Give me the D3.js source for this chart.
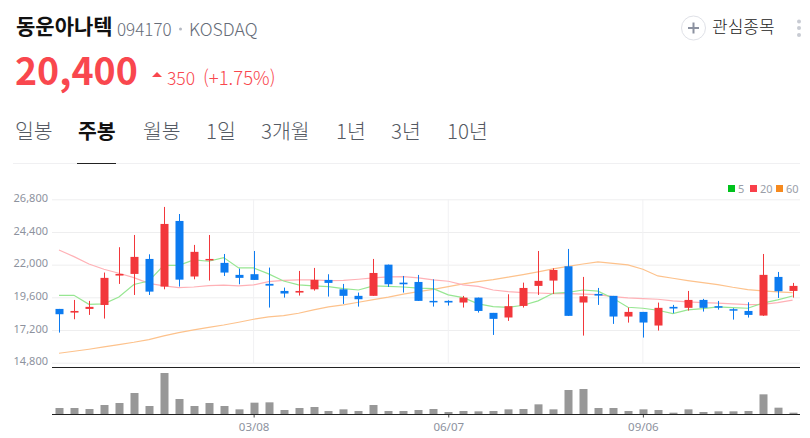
<!DOCTYPE html>
<html lang="ko">
<head>
<meta charset="utf-8">
<script src="https://cdn.jsdelivr.net/npm/d3@7"></script>
<style>
    html, body { margin: 0; padding: 0; background: #fff; }
    svg { display: block; font-family: "Noto Sans CJK KR", "Noto Sans", sans-serif; }
    .axis-label { font-family: "Noto Sans", "Noto Sans CJK KR", sans-serif; }
</style>
</head>
<body>
<svg id="chart" width="810" height="438"></svg>
<script>
const weeks = ['12/07','12/14','12/21','12/28','01/04','01/11','01/18','01/25','02/01','02/08',
    '02/15','02/22','03/01','03/08','03/15','03/22','03/29','04/05','04/12','04/19',
    '04/26','05/03','05/10','05/17','05/24','05/31','06/07','06/14','06/21','06/28',
    '07/05','07/12','07/19','07/26','08/02','08/09','08/16','08/23','08/30','09/06',
    '09/13','09/20','09/27','10/04','10/11','10/18','10/25','11/01','11/08','11/15'];

const opens = [18750,18480,18750,19040,21200,21320,22420,20390,25210,21130,
    22350,22130,21250,21300,20590,20070,19950,20190,20880,20190,
    19710,19710,22000,20680,20730,19340,19340,19220,19580,18460,
    18120,18970,20440,20830,21880,19220,19850,19710,18190,18530,
    17530,18900,18830,19410,18950,18730,18600,18260,21100,20070];
const closes = [18360,18600,18900,21030,21320,22570,20020,24990,20900,22940,
    22420,21420,21030,20880,20460,19880,20070,20880,20660,19710,
    19460,21390,20560,20560,19340,19270,19220,19580,18600,18020,
    18950,20290,20810,21610,18240,19680,19730,18190,18530,17750,
    18830,18780,19410,18830,18850,18650,18310,21250,20050,20440];
const highs = [18750,19410,19340,21420,23280,24180,22760,26240,25720,23450,
    24180,22785,21710,23005,21785,20315,21540,21760,21295,20585,
    19950,22420,22005,21170,21245,20925,19385,19705,19580,18455,
    19825,20680,23005,21735,23155,21100,20290,19705,18850,18530,
    19215,19045,20070,19485,19335,18800,19240,22785,21465,20660];
const lows = [17010,17990,18310,18040,20585,19775,19775,20190,20390,20925,
    20830,21170,20560,20880,18850,19580,19730,20095,19655,19115,
    18920,19705,20365,19950,19335,18920,18995,18850,18480,16840,
    17870,18850,19775,19850,18235,16790,19045,17650,17745,16645,
    17160,18430,18625,18555,18700,17965,18115,18235,19555,19580];

const ma5 = [19750,19750,19090,19120,19630,20540,20800,21950,21950,22350,
    22250,22520,21760,21760,21320,20800,20510,20440,20390,20240,
    20140,20440,20410,20360,20270,20240,19780,19580,19120,18920,
    18870,19020,19340,19900,19970,20140,20050,19530,18870,18800,
    18650,18410,18680,18770,18900,18850,18800,19170,19410,19700];
const ma20 = [23080,22590,22050,21660,21370,21050,20630,20440,20320,20360,
    20460,20490,20440,20510,20760,20850,20880,20880,20830,20850,
    20930,21030,21100,21120,21030,20880,20780,20510,20410,20140,
    20020,19950,19920,19880,19880,19830,19800,19650,19560,19510,
    19460,19340,19260,19210,19170,19120,19070,19090,19210,19390];
const ma60 = [15495,15640,15790,15960,16130,16300,16500,16770,17010,17210,
    17400,17570,17770,17990,18160,18260,18430,18680,18900,19040,
    19240,19430,19610,19830,20020,20190,20390,20585,20760,20900,
    21080,21270,21470,21690,21880,22050,22200,22100,21980,21660,
    21170,21000,20830,20680,20540,20340,20170,20070,20000,19950];

const volumes = [180,180,150,270,330,630,240,1230,450,240,
    330,240,140,340,350,120,180,210,90,140,
    90,270,90,90,120,150,60,90,80,90,
    140,150,290,140,720,750,180,180,90,140,
    120,40,140,60,80,80,90,590,190,40];

const priceTicks = [14800,17200,19600,22000,24400,26800];
const dateTicks = ['03/08','06/07','09/06'];
const tabs = [['일봉',15],['주봉',78],['월봉',143],['1일',206],['3개월',261],['1년',336],['3년',391],['10년',447]];
const legendItems = [['5','#00c21c',728],['20','#f9404a',750],['60','#f68a1e',776]];

const RED = '#f2373b', BLUE = '#0c7bf0';
const svg = d3.select('#chart');

// header
function label(x, y, text, size, fill, weight) {
    return svg.append('text').attr('x', x).attr('y', y).text(text)
        .attr('font-size', size).attr('fill', fill).attr('font-weight', weight || 400);
}
label(16, 34, '동운아나텍', 21, '#111', 700);
label(117, 36, '094170', 17, '#666c78').attr('font-weight', 300);
svg.append('circle').attr('cx', 180.5).attr('cy', 29).attr('r', 1.5).attr('fill', '#b5b9c2');
label(189, 36, 'KOSDAQ', 17.7, '#666c78').attr('font-weight', 300);
label(15, 85, '20,400', 37.5, '#f9474e', 700);
svg.append('path').attr('d', 'M152 77L157 72L162 77Z').attr('fill', '#f9474e');
label(167, 85, '350', 17.5, '#f9474e').attr('font-weight', 300);
label(203, 85, '(+1.75%)', 18.5, '#f9474e').attr('font-weight', 300);

svg.append('circle').attr('cx', 693.5).attr('cy', 28).attr('r', 12)
    .attr('fill', '#fff').attr('stroke', '#dfe1e7');
svg.append('path').attr('d', 'M688 28H699M693.5 22.5V33.5')
    .attr('stroke', '#8b91a0').attr('stroke-width', 2);
label(712, 33, '관심종목', 17, '#222').attr('font-weight', 300);
[21.5, 28, 35].forEach(y => svg.append('circle').attr('cx', 799).attr('cy', y).attr('r', 2).attr('fill', '#c8cbd3'));

tabs.forEach(([name, x], i) => label(x, 139, name, 20.5, i === 1 ? '#111' : '#555a63', i === 1 ? 700 : 300));
svg.append('line').attr('x1', 13).attr('x2', 800).attr('y1', 163.5).attr('y2', 163.5).attr('stroke', '#f0f0f2');
svg.append('line').attr('x1', 77).attr('x2', 116).attr('y1', 163.5).attr('y2', 163.5).attr('stroke', '#222');

// legend
legendItems.forEach(([name, color, x]) => {
    svg.append('rect').attr('x', x).attr('y', 185).attr('width', 7).attr('height', 7).attr('fill', color);
    label(x + 10, 193, name, 11, '#9a9ea8').attr('class', 'axis-label');
});

// scales
const x = d3.scalePoint().domain(weeks).range([59, 792.6]);
const y = d3.scaleLinear().domain([14800, 26800]).range([362.7, 199.3]);
const yVol = d3.scaleLinear().domain([0, 1230]).range([414, 373]);

// price grid + axis
const yAxis = svg.append('g').attr('transform', 'translate(52,0)')
    .call(d3.axisLeft(y).tickValues(priceTicks).tickFormat(d3.format(',')).tickSize(-748).tickPadding(4));
yAxis.select('.domain').remove();
yAxis.selectAll('line').attr('stroke', '#eeeeef');
yAxis.selectAll('text').attr('class', 'axis-label').attr('font-size', 11)
    .attr('fill', '#8d929e').attr('dy', '0.2em');

svg.append('g').selectAll('line').data(dateTicks).join('line')
    .attr('x1', d => x(d)).attr('x2', d => x(d)).attr('y1', 199).attr('y2', 363)
    .attr('stroke', '#f1f1f3');

svg.append('line').attr('x1', 52).attr('x2', 800).attr('y1', 367.5).attr('y2', 367.5).attr('stroke', '#222');

// moving averages
const maLine = d3.line().x((d, i) => x(weeks[i])).y(d => y(d));
[[ma60, '#fdc28c'], [ma20, '#ffb1b6'], [ma5, '#97e692']].forEach(([values, color]) => {
    svg.append('path').attr('d', maLine(values)).attr('fill', 'none')
        .attr('stroke', color).attr('stroke-width', 1.2);
});

// candles
const candles = svg.append('g').selectAll('g').data(weeks).join('g');
const candleColor = (d, i) => closes[i] >= opens[i] ? RED : BLUE;
candles.append('line')
    .attr('x1', d => Math.round(x(d)) + 0.5).attr('x2', d => Math.round(x(d)) + 0.5)
    .attr('y1', (d, i) => y(highs[i])).attr('y2', (d, i) => y(lows[i]))
    .attr('stroke', candleColor);
candles.append('rect')
    .attr('x', d => Math.round(x(d)) - 3.5).attr('width', 8)
    .attr('y', (d, i) => y(Math.max(opens[i], closes[i])))
    .attr('height', (d, i) => Math.max(1.5, Math.abs(y(opens[i]) - y(closes[i]))))
    .attr('fill', candleColor);

// volume
svg.append('g').selectAll('rect').data(weeks).join('rect')
    .attr('x', d => Math.round(x(d)) - 3.5).attr('width', 8)
    .attr('y', (d, i) => yVol(volumes[i]))
    .attr('height', (d, i) => yVol(0) - yVol(volumes[i]))
    .attr('fill', '#989898');

const xAxis = svg.append('g').attr('transform', 'translate(0,414.5)')
    .call(d3.axisBottom(x).tickValues(dateTicks).tickSize(3).tickPadding(5));
xAxis.select('.domain').remove();
xAxis.selectAll('line').attr('stroke', '#444');
xAxis.selectAll('text').attr('class', 'axis-label').attr('font-size', 11.5).attr('fill', '#8d929e');
svg.append('line').attr('x1', 52).attr('x2', 800).attr('y1', 414.5).attr('y2', 414.5).attr('stroke', '#222');
</script>
</body>
</html>
